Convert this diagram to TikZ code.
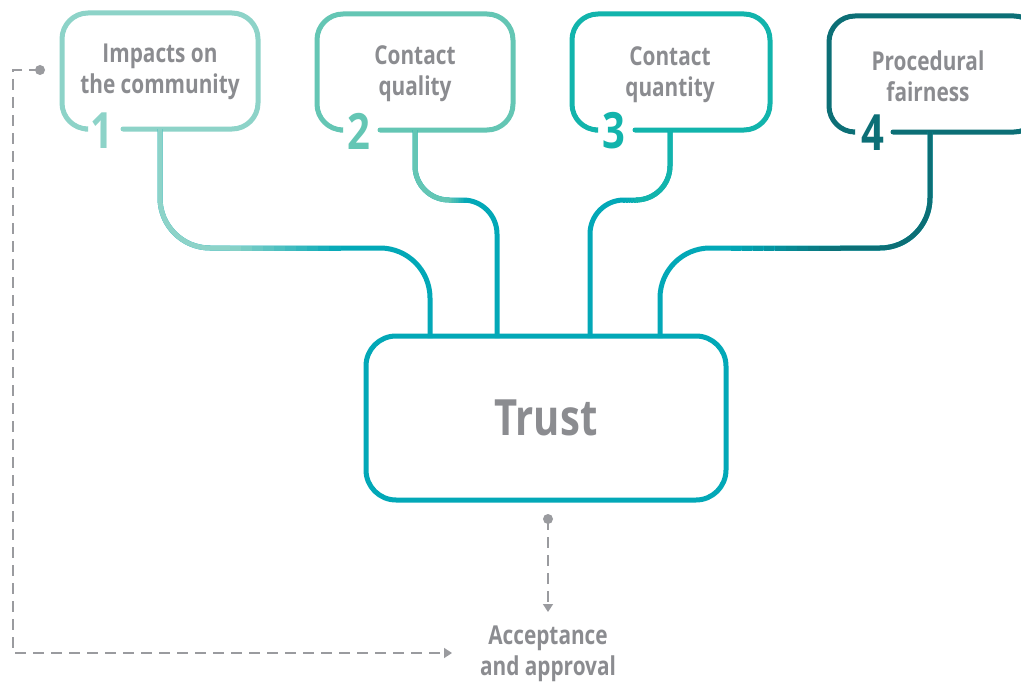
\documentclass[tikz,border=0pt]{standalone}
\usepackage{fontspec}
\setmainfont{Open Sans}[FakeStretch=0.8]
\usetikzlibrary{arrows.meta}
\definecolor{cA}{HTML}{8DD3C8}
\definecolor{cB}{HTML}{64C6B4}
\definecolor{cC}{HTML}{12B4AC}
\definecolor{cD}{HTML}{0C6F76}
\definecolor{cT}{HTML}{02A8B7}
\definecolor{txt}{HTML}{8B8C90}
\definecolor{dsh}{HTML}{9A9B9F}
\tikzset{
  boxline/.style={line width=5pt, rounded corners=26pt, line cap=round},
  conn/.style={line width=5pt},
  lbl/.style={text=txt, font=\bfseries\fontsize{26}{31}\selectfont, align=center, inner sep=0pt},
  num/.style={font=\bfseries\fontsize{50}{50}\selectfont, inner sep=0pt},
  fb/.style={dsh, line width=1.5pt, dash pattern=on 11pt off 7pt},
  tip/.style={-{Triangle[width=10pt,length=8pt]}}
}
\newcommand{\gapbox}[7]{%
  \draw[boxline,#7] (#6,#4) -- (#3,#4) -- (#3,#2) -- (#1,#2) -- (#1,#4) -- (#5,#4);}
\newcommand{\gradseg}[5]{% y, x1, x2, colA, colB
  \foreach \i in {0,...,9}{%
    \pgfmathsetmacro{\xa}{#2+(#3-#2)*\i/10}%
    \pgfmathsetmacro{\xb}{#2+(#3-#2)*(\i+1)/10+0.5}%
    \pgfmathsetmacro{\pc}{100-\i*10-5}%
    \draw[conn, color=#4!\pc!#5] (\xa,#1) -- (\xb,#1);}}
\begin{document}
\begin{tikzpicture}[x=1pt,y=-1pt]
\clip (0,0) rectangle (1021,685);
\fill[white] (0,0) rectangle (1021,685);
% boxes
\gapbox{62}{13}{258}{129}{85}{123}{cA}
\gapbox{317}{14}{513}{130}{340}{380}{cB}
\gapbox{572}{14}{770}{130}{595}{635}{cC}
\gapbox{829}{16}{1040}{132}{853}{893}{cD}
\node[lbl] (b1) at (160,72) {Impacts on\\the community};
\node[lbl] (b2) at (415,74) {Contact\\quality};
\node[lbl] (b3) at (670,75) {Contact\\quantity};
\node[lbl] (b4) at (928,76) {Procedural\\fairness};
\node[num, text=cA] (n1) at (102,131) {1};
\node[num, text=cB] (n2) at (359,131) {2};
\node[num, text=cC] (n3) at (614,131) {3};
\node[num, text=cD] (n4) at (873,133) {4};
% trust
\node[draw=cT, line width=5pt, rounded corners=30pt, minimum width=360pt, minimum height=164pt, text=txt, font=\bfseries\fontsize{50}{50}\selectfont] (trust) at (546,418) {Trust};
\coordinate (p1) at (160,129);
\coordinate (p2) at (415,130);
\coordinate (p3) at (670,130);
\coordinate (p4) at (930,132);
\coordinate (t1) at (430,338);
\coordinate (t2) at (497,338);
\coordinate (t3) at (590,338);
\coordinate (t4) at (660,338);
% connectors (base in trust colour)
\draw[conn, cT, rounded corners=50pt] (p1) -- (p1 |- 0,248) -- (t1 |- 0,248) -- (t1);
\draw[conn, cT, rounded corners=34pt] (p2) -- (p2 |- 0,200) -- (t2 |- 0,200) -- (t2);
\draw[conn, cT, rounded corners=34pt] (p3) -- (p3 |- 0,200) -- (t3 |- 0,200) -- (t3);
\draw[conn, cT, rounded corners=50pt] (p4) -- (p4 |- 0,248) -- (t4 |- 0,248) -- (t4);
% box-coloured starts
\draw[conn, cA, rounded corners=50pt] (p1) -- (p1 |- 0,248) -- (230,248);
\gradseg{248}{230}{340}{cA}{cT}
\draw[conn, cB, rounded corners=34pt] (p2) -- (p2 |- 0,200) -- (450,200);
\gradseg{200}{449}{466}{cB}{cT}
\draw[conn, cC, rounded corners=34pt] (p3) -- (p3 |- 0,200) -- (637,200);
\gradseg{200}{638}{622}{cC}{cT}
\draw[conn, cD, rounded corners=50pt] (p4) -- (p4 |- 0,248) -- (840,248);
\gradseg{248}{841}{730}{cD}{cT}
% outputs
\coordinate (o1) at (548,519);
\fill[dsh] (o1) circle (5pt);
\node[lbl, anchor=north] (acc) at (548,626) {Acceptance\\and approval};
\draw[fb, tip] (o1) -- (548,612);
\coordinate (f0) at (40,70);
\fill[dsh] (f0) circle (5pt);
\coordinate (f1) at (452,653);
\draw[fb, tip] (f0) -- (13,70) -- (13,653) -- (f1);
\end{tikzpicture}
\end{document}
